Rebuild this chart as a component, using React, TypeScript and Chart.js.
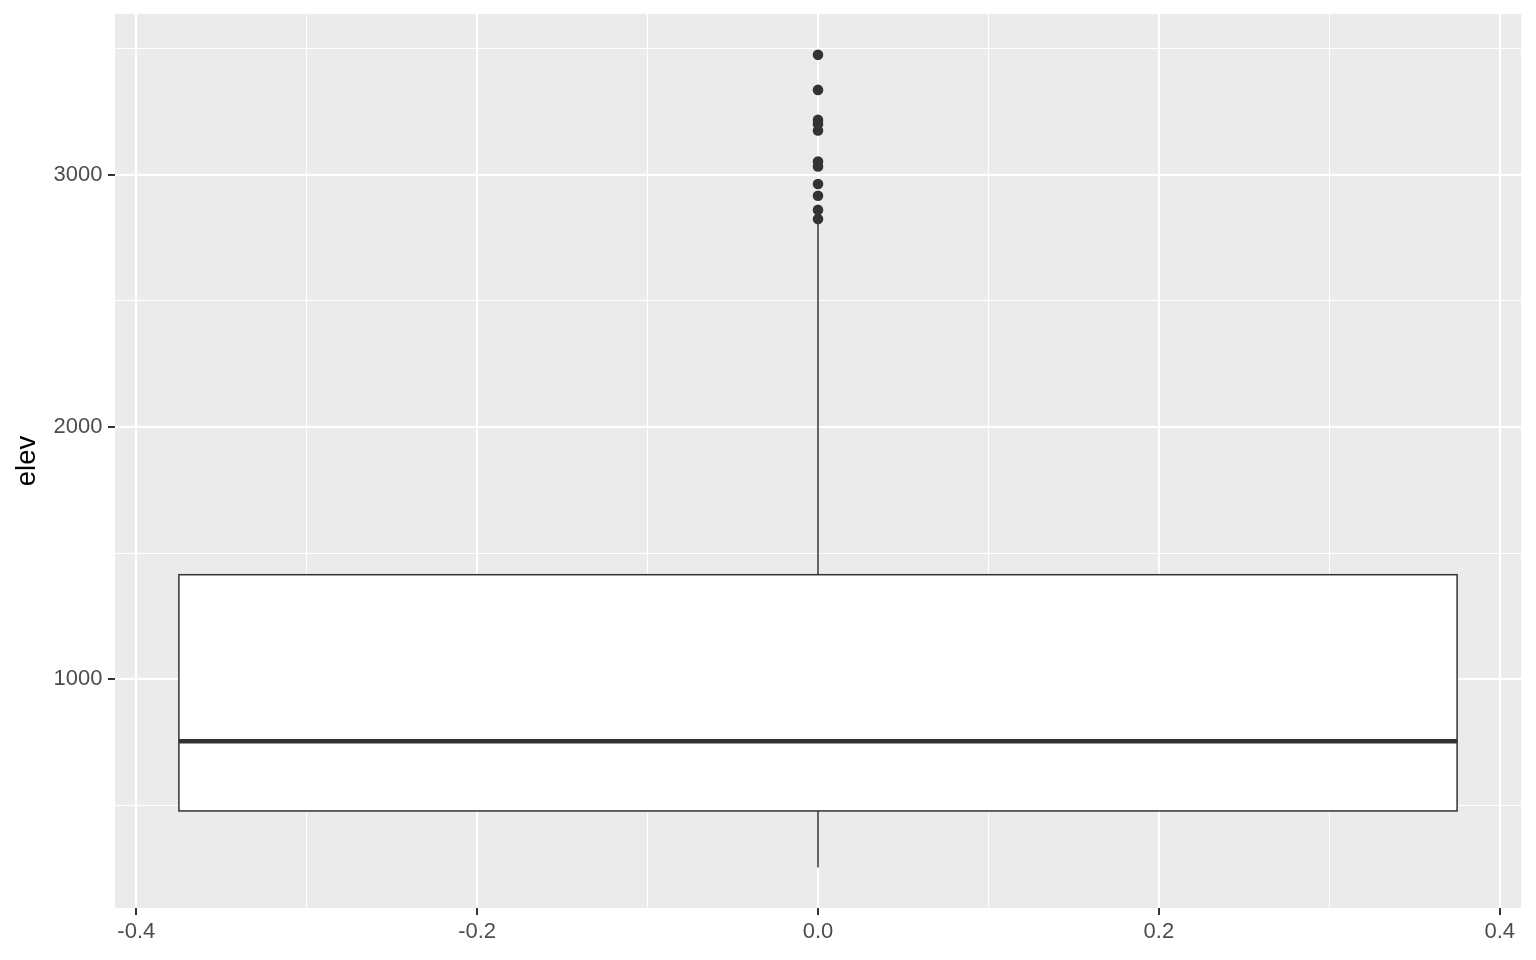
import { useEffect, useRef } from "react"
import { Chart, registerables } from "chart.js"

Chart.register(...registerables)

// axis ranges and ticks
const xRange = [-0.4125, 0.4125]
const yRange = [92, 3638]
const xMajor = [-0.4, -0.2, 0, 0.2, 0.4]
const xMinor = [-0.3, -0.1, 0.1, 0.3]
const yMajor = [1000, 2000, 3000]
const yMinor = [500, 1500, 2500, 3500]

// box (single group at x = 0, width 0.75)
const boxCenter = 0
const boxSpan = [-0.375, 0.375]
// lower whisker, Q1, median, Q3, upper whisker
const boxStats = [253, 477, 753, 1414, 2812]
const outliers = [3476, 3337, 3218, 3202, 3176, 3053, 3033, 2964, 2917, 2861, 2825]

const FONT = "'Liberation Sans', Arial, sans-serif"
const INK = "#333333"

export default function App() {
  const chartRef = useRef<HTMLCanvasElement>(null)
  const chartInstance = useRef<Chart | null>(null)

  useEffect(() => {
    document.body.style.margin = "0"
    if (!chartRef.current) return
    const ctx = chartRef.current.getContext("2d")
    if (!ctx) return

    if (chartInstance.current) {
      chartInstance.current.destroy()
    }

    // grey panel behind the grid
    const panelBg = {
      id: "panelBg",
      beforeDraw(chart: any) {
        const { ctx, chartArea } = chart
        ctx.save()
        ctx.fillStyle = "#EBEBEB"
        ctx.fillRect(chartArea.left, chartArea.top, chartArea.right - chartArea.left, chartArea.bottom - chartArea.top)
        ctx.restore()
      },
    }

    // box + whiskers, drawn through the chart's scales
    const boxPlot = {
      id: "boxPlot",
      beforeDatasetsDraw(chart: any) {
        const { ctx } = chart
        const xs = chart.scales.x
        const ys = chart.scales.y
        const [lo, q1, med, q3, hi] = boxStats
        const xl = xs.getPixelForValue(boxSpan[0])
        const xr = xs.getPixelForValue(boxSpan[1])
        const xc = xs.getPixelForValue(boxCenter)
        ctx.save()
        ctx.strokeStyle = INK
        ctx.lineWidth = 1.5
        // whiskers
        ctx.beginPath()
        ctx.moveTo(xc, ys.getPixelForValue(q3))
        ctx.lineTo(xc, ys.getPixelForValue(hi))
        ctx.moveTo(xc, ys.getPixelForValue(q1))
        ctx.lineTo(xc, ys.getPixelForValue(lo))
        ctx.stroke()
        // box
        const yTop = ys.getPixelForValue(q3)
        const yBot = ys.getPixelForValue(q1)
        ctx.fillStyle = "#FFFFFF"
        ctx.fillRect(xl, yTop, xr - xl, yBot - yTop)
        ctx.strokeRect(xl, yTop, xr - xl, yBot - yTop)
        // median
        ctx.lineWidth = 4.5
        ctx.beginPath()
        ctx.moveTo(xl, ys.getPixelForValue(med))
        ctx.lineTo(xr, ys.getPixelForValue(med))
        ctx.stroke()
        ctx.restore()
      },
    }

    chartInstance.current = new Chart(ctx, {
      type: "scatter",
      data: {
        datasets: [
          {
            label: "outliers",
            data: outliers.map((v) => ({ x: boxCenter, y: v })),
            backgroundColor: INK,
            borderWidth: 0,
            pointRadius: 5.3,
          },
        ],
      },
      options: {
        animation: false,
        responsive: true,
        maintainAspectRatio: false,
        layout: { padding: { top: 14, right: 15, bottom: 0, left: 0 } },
        plugins: {
          legend: { display: false },
          tooltip: { enabled: false },
        },
        scales: {
          x: {
            type: "linear",
            min: xRange[0],
            max: xRange[1],
            afterBuildTicks: (scale: any) => {
              scale.ticks = [...xMajor, ...xMinor].sort((a, b) => a - b).map((v) => ({ value: v }))
            },
            afterFit: (scale: any) => {
              scale.height = 52
              scale.paddingLeft = 0
              scale.paddingRight = 0
            },
            border: { display: false },
            grid: {
              color: "#FFFFFF",
              lineWidth: (c: any) => (xMajor.includes(c.tick?.value) ? 2 : 1),
              tickColor: (c: any) => (xMajor.includes(c.tick?.value) ? INK : "rgba(0,0,0,0)"),
              tickLength: 7,
              tickWidth: 2,
            },
            ticks: {
              autoSkip: false,
              maxRotation: 0,
              padding: 4,
              color: "#4D4D4D",
              font: { family: FONT, size: 22 },
              callback: (value: any) => (xMajor.includes(value) ? Number(value).toFixed(1) : ""),
            },
          },
          y: {
            type: "linear",
            min: yRange[0],
            max: yRange[1],
            afterBuildTicks: (scale: any) => {
              scale.ticks = [...yMajor, ...yMinor].sort((a, b) => a - b).map((v) => ({ value: v }))
            },
            afterFit: (scale: any) => {
              scale.width = 115
              scale.paddingTop = 0
              scale.paddingBottom = 0
            },
            border: { display: false },
            grid: {
              color: "#FFFFFF",
              lineWidth: (c: any) => (yMajor.includes(c.tick?.value) ? 2 : 1),
              tickColor: (c: any) => (yMajor.includes(c.tick?.value) ? INK : "rgba(0,0,0,0)"),
              tickLength: 7,
              tickWidth: 2,
            },
            ticks: {
              autoSkip: false,
              padding: 5.5,
              color: "#4D4D4D",
              font: { family: FONT, size: 22 },
              callback: (value: any) => (yMajor.includes(value) ? String(value) : ""),
            },
            title: {
              display: true,
              text: "elev",
              color: "#000000",
              font: { family: FONT, size: 27.5 },
              padding: { top: 11, bottom: 0 },
            },
          },
        },
      },
      plugins: [panelBg, boxPlot],
    })

    return () => {
      if (chartInstance.current) {
        chartInstance.current.destroy()
        chartInstance.current = null
      }
    }
  }, [])

  return (
    <div style={{ width: 1536, height: 960, background: "#FFFFFF" }}>
      <canvas ref={chartRef} />
    </div>
  )
}
